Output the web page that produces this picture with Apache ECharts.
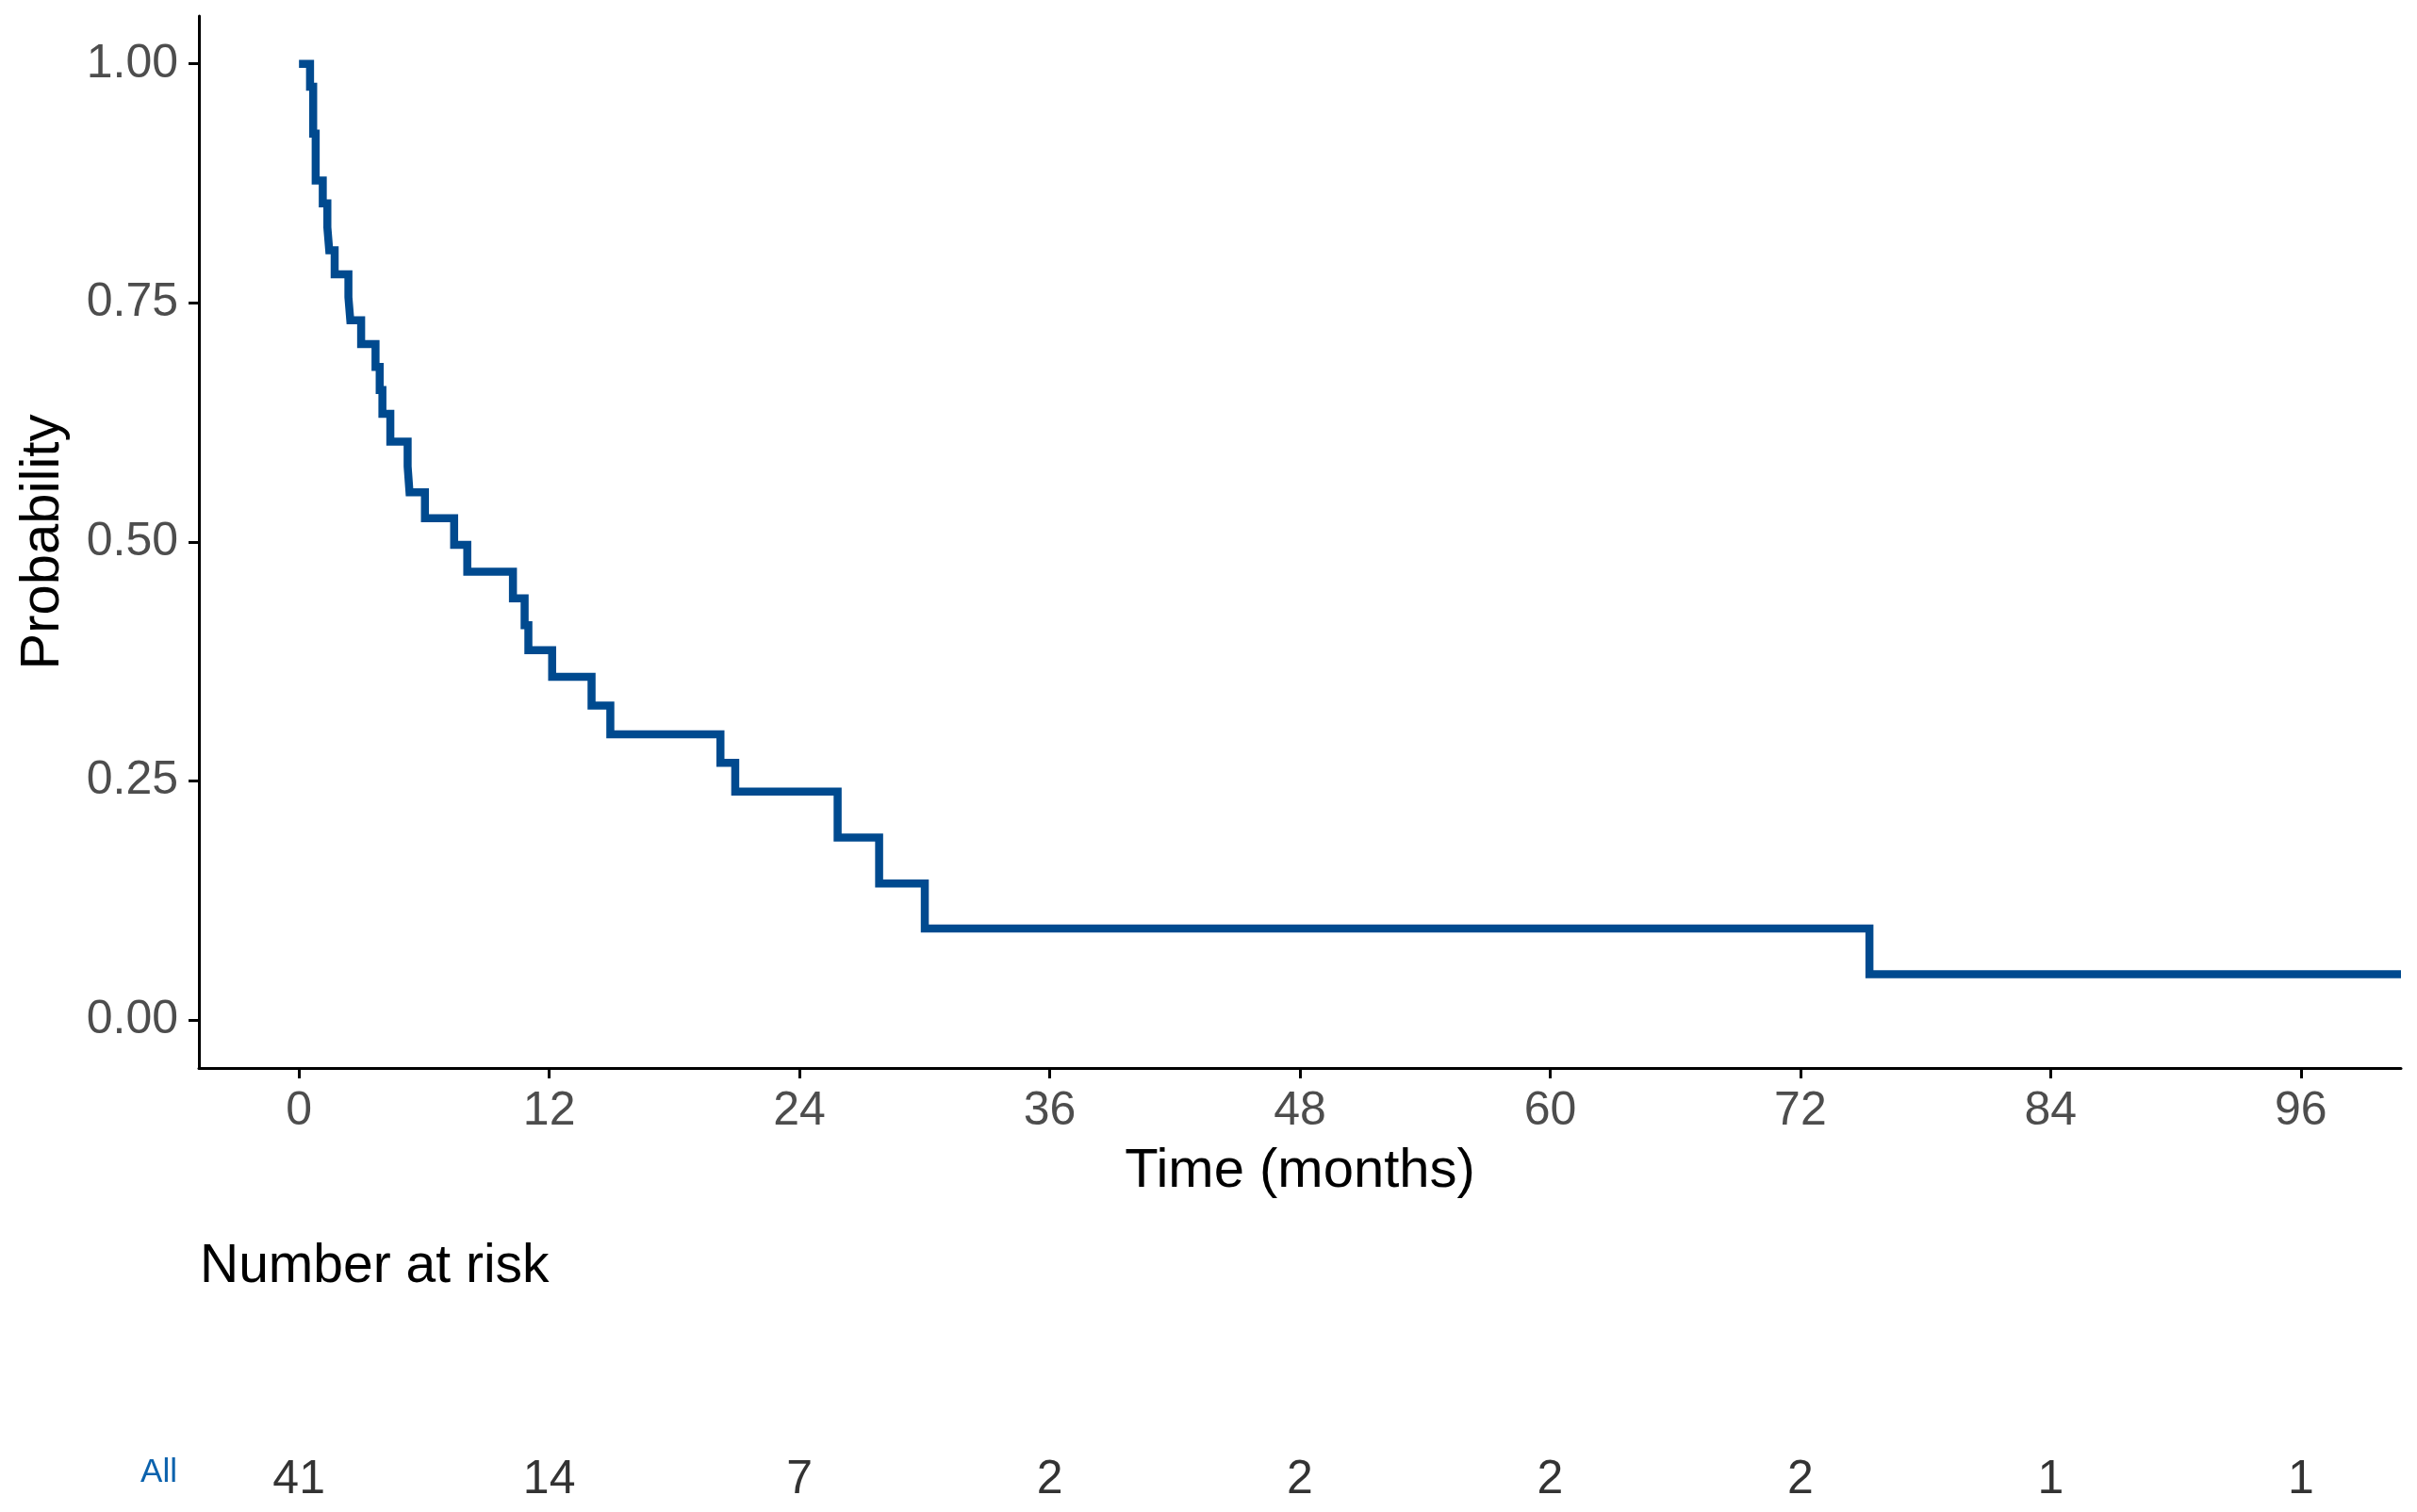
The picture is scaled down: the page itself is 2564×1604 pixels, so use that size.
<!DOCTYPE html>
<html>
<head>
<meta charset="utf-8">
<script src="https://cdn.jsdelivr.net/npm/echarts@6/dist/echarts.min.js"></script>
<style>
html,body{margin:0;padding:0;background:#fff;}
#chart{width:2564px;height:1604px;}
</style>
</head>
<body>
<div id="chart"></div>
<script>
// Kaplan-Meier step curve (time in months, survival probability)
const times = [0, 0.53, 0.68, 0.80, 1.14, 1.36, 1.45, 1.71, 2.37, 2.46, 2.98, 3.67, 3.87, 4.00, 4.38, 5.21, 5.30, 6.04, 7.44, 8.07, 10.26, 10.82, 11.00, 12.14, 14.03, 14.93, 20.21, 20.92, 25.83, 27.82, 30.01, 75.31, 100.8];
const survival = [1.000, 0.976, 0.927, 0.878, 0.854, 0.829, 0.805, 0.780, 0.756, 0.732, 0.707, 0.683, 0.659, 0.634, 0.605, 0.579, 0.552, 0.525, 0.497, 0.469, 0.441, 0.413, 0.387, 0.359, 0.329, 0.299, 0.269, 0.239, 0.191, 0.143, 0.096, 0.048, 0.048];

const xTicks = [0, 12, 24, 36, 48, 60, 72, 84, 96];
const yTicks = [0, 0.25, 0.5, 0.75, 1];

const riskTimes = [0, 12, 24, 36, 48, 60, 72, 84, 96];
const riskCounts = [41, 14, 7, 2, 2, 2, 2, 1, 1];
const strata = ['All'];

const FONT = 'Liberation Sans, Arial, Helvetica, sans-serif';
const LINE_COLOR = '#004a8f';

const chart = echarts.init(document.getElementById('chart'), null, {renderer: 'canvas'});

const option = {
  backgroundColor: '#ffffff',
  animation: false,
  title: {
    text: 'Number at risk',
    left: 212,
    top: 1316,
    padding: 0,
    textStyle: {fontFamily: FONT, fontSize: 57, fontWeight: 'normal', color: '#000'}
  },
  grid: [
    {left: 211, right: 17, top: 17, bottom: 471, containLabel: false},
    {left: 211, right: 17, top: 1542, height: 40, containLabel: false}
  ],
  xAxis: [
    {
      type: 'value', gridIndex: 0, min: -4.8, max: 100.8,
      name: 'Time (months)', nameLocation: 'middle', nameGap: 81,
      nameTextStyle: {fontFamily: FONT, fontSize: 58, color: '#000'},
      axisLine: {show: true, onZero: false, lineStyle: {color: '#000', width: 3}},
      axisTick: {show: true, length: 11, customValues: xTicks, lineStyle: {color: '#000', width: 3}},
      axisLabel: {show: true, customValues: xTicks, margin: 21, fontFamily: FONT, fontSize: 50, color: '#4d4d4d'},
      splitLine: {show: false}
    },
    {
      type: 'value', gridIndex: 1, min: -4.8, max: 100.8, show: false
    }
  ],
  yAxis: [
    {
      type: 'value', gridIndex: 0, min: -0.05, max: 1.05,
      name: 'Probability', nameLocation: 'middle', nameGap: 136, nameRotate: 90,
      nameTextStyle: {fontFamily: FONT, fontSize: 58, color: '#000'},
      axisLine: {show: true, onZero: false, lineStyle: {color: '#000', width: 3}},
      axisTick: {show: true, length: 11, customValues: yTicks, lineStyle: {color: '#000', width: 3}},
      axisLabel: {show: true, customValues: yTicks, margin: 22, fontFamily: FONT, fontSize: 50, color: '#4d4d4d',
        formatter: v => Number(v).toFixed(2)},
      splitLine: {show: false}
    },
    {
      type: 'category', gridIndex: 1, data: strata,
      axisLine: {show: false}, axisTick: {show: false}, splitLine: {show: false},
      axisLabel: {show: true, margin: 23, fontFamily: FONT, fontSize: 35, color: '#0b62ad'}
    }
  ],
  series: [
    {
      type: 'line', xAxisIndex: 0, yAxisIndex: 0,
      step: 'end', showSymbol: false, symbol: 'none',
      data: times.map((t, i) => [t, survival[i]]),
      lineStyle: {color: LINE_COLOR, width: 8.5, join: 'miter', cap: 'butt'},
      clip: false
    },
    {
      type: 'scatter', xAxisIndex: 1, yAxisIndex: 1,
      symbolSize: 1, itemStyle: {color: 'rgba(0,0,0,0)'},
      data: riskTimes.map((t, i) => [t, strata[0], riskCounts[i]]),
      label: {show: true, position: 'inside', offset: [0, 8],
        formatter: p => String(p.value[2]),
        fontFamily: FONT, fontSize: 50, color: '#000'}
    }
  ]
};
chart.setOption(option);
</script>
</body>
</html>
